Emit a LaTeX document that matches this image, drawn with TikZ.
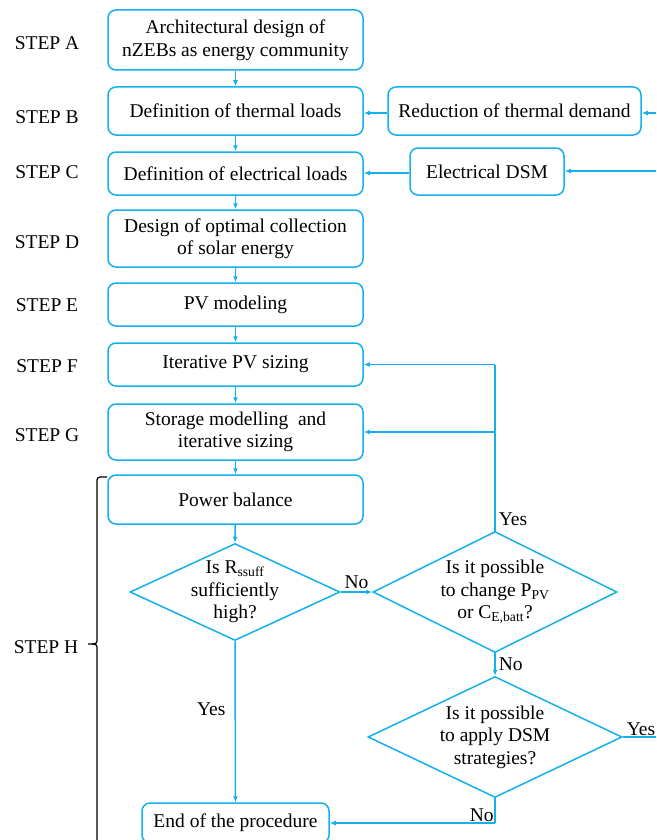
\documentclass[tikz,border=0pt]{standalone}
\usepackage{fontspec}
\setmainfont{Liberation Serif}
\usetikzlibrary{calc,shapes.geometric,arrows.meta}
\definecolor{flowblue}{RGB}{20,176,236}
\def\drawflow{\draw[flowline]}
\def\stepnode{\node[steplabel]}

\begin{document}
\begin{tikzpicture}[x=1pt,y=-1pt,
  flowline/.style={draw=flowblue, line width=1.5pt},
  arr/.style={flowline, -{Latex[length=6pt,width=5pt]}},
  mainbox/.style={draw=flowblue, line width=1.5pt, rounded corners=8pt, align=center,
    minimum width=255pt, inner sep=2pt, font=\fontsize{19.5}{22.5}\selectfont},
  sidebox/.style={mainbox, minimum width=0pt, inner xsep=10pt},
  decision/.style={diamond, draw=flowblue, line width=1.5pt, align=center, inner sep=-8pt,
    aspect=2.2, font=\fontsize{19.5}{22.5}\selectfont},
  steplabel/.style={font=\fontsize{19.5}{22.5}\selectfont},
  answer/.style={font=\fontsize{19.5}{22.5}\selectfont, inner sep=1pt}]
\useasboundingbox (0,0) rectangle (656,840);

% -------- main column ---------
\node[mainbox, minimum height=60pt] (archi) at (235.5,40) {Architectural design of\\nZEBs as energy community};
\node[mainbox, minimum height=48pt] (thermal) at (235.5,111) {Definition of thermal loads};
\node[mainbox, minimum height=43pt] (elec) at (235.5,173.5) {Definition of electrical loads};
\node[mainbox, minimum height=57pt] (solar) at (235.5,238.5) {Design of optimal collection\\of solar energy};
\node[mainbox, minimum height=43pt] (pvmod) at (235.5,304.5) {PV modeling};
\node[mainbox, minimum height=43pt] (pvsize) at (235.5,364.5) {Iterative PV sizing};
\node[mainbox, minimum height=56pt] (storage) at (235.5,432) {Storage modelling \ and\\iterative sizing};
\node[mainbox, minimum height=49pt] (balance) at (235.5,499.5) {Power balance};
\node[mainbox, minimum width=187pt, minimum height=40pt] (finish) at (235.5,823) {End of the procedure};

% -------- side boxes ---------
\node[sidebox, minimum width=253pt, minimum height=48pt] (reduce) at (514.5,111) {Reduction of thermal demand};
\node[sidebox, minimum width=154pt, minimum height=47pt] (dsm) at (487,171.5) {Electrical DSM};

% -------- decisions ---------
\node[decision, minimum width=210pt, minimum height=97pt] (rss) at (235,592) {Is R\textsubscript{ssuff}\\sufficiently\\high?};
\node[decision, minimum width=244pt, minimum height=121pt] (change) at (495,592) {Is it possible\\to change P\textsubscript{PV}\\or C\textsubscript{E,batt}?};
\node[decision, minimum width=254pt, minimum height=121pt] (apply) at (495,737) {Is it possible\\to apply DSM\\strategies?};

% -------- step labels ---------
\stepnode (stepA) at (47,43) {STEP A};
\stepnode (stepB) at (47,117) {STEP B};
\stepnode (stepC) at (47,172) {STEP C};
\stepnode (stepD) at (47,242) {STEP D};
\stepnode (stepE) at (47,305) {STEP E};
\stepnode (stepF) at (47,366) {STEP F};
\stepnode (stepG) at (47,435) {STEP G};
\stepnode (stepH) at (46,647) {STEP H};

% brace of step H
\draw[line width=1.2pt, rounded corners=3pt] (107,477) -- (97,477) -- (97,644) -- (88,644);
\draw[line width=1.2pt, rounded corners=3pt] (92,644) -- (97,644) -- (97,850);

% -------- vertical flow ---------
\draw[arr] (archi) -- (thermal);
\draw[arr] (thermal) -- (elec);
\draw[arr] (elec) -- (solar);
\draw[arr] (solar) -- (pvmod);
\draw[arr] (pvmod) -- (pvsize);
\draw[arr] (pvsize) -- (storage);
\draw[arr] (storage) -- (balance);
\draw[arr] (balance) -- (rss.north);
\draw[arr] (rss.south) -- node[answer, left=8pt, pos=0.42] (yes1) {Yes} (finish.north);

% -------- feedback from the right edge ---------
\coordinate (edgeB) at (656,113);
\coordinate (edgeC) at (656,171);
\draw[arr] (edgeB) -- (reduce.east |- edgeB);
\draw[arr] (reduce.west |- edgeB) -- (thermal.east |- edgeB);
\draw[arr] (edgeC) -- (dsm.east |- edgeC);
\draw[arr] (dsm.west |- 0,173) -- (elec.east |- 0,173);

% -------- decisions loop ---------
\coordinate (loopF) at (change.north |- pvsize.east);
\coordinate (loopG) at (change.north |- storage.east);
\draw[arr] (rss.east) -- node[answer, above=2pt] (no1) {No} (change.west);
\drawflow (change.north) -- node[answer, right=2pt, pos=0.07] (yes2) {Yes} (loopF);
\draw[arr] (loopF) -- (pvsize.east);
\draw[arr] (loopG) -- (storage.east);
\draw[arr] (change.south) -- node[answer, right=2pt] (no2) {No} (apply.north);
\coordinate (edgeH) at (656,737);
\drawflow (apply.east) -- node[answer, above, pos=0.55] (yes3) {Yes} (edgeH);
\coordinate (turn) at (apply.south |- finish.east);
\drawflow (apply.south) -- (turn);
\draw[arr] (turn) -- node[answer, above, pos=0.08] (no3) {No} (finish.east);
\end{tikzpicture}
\end{document}
